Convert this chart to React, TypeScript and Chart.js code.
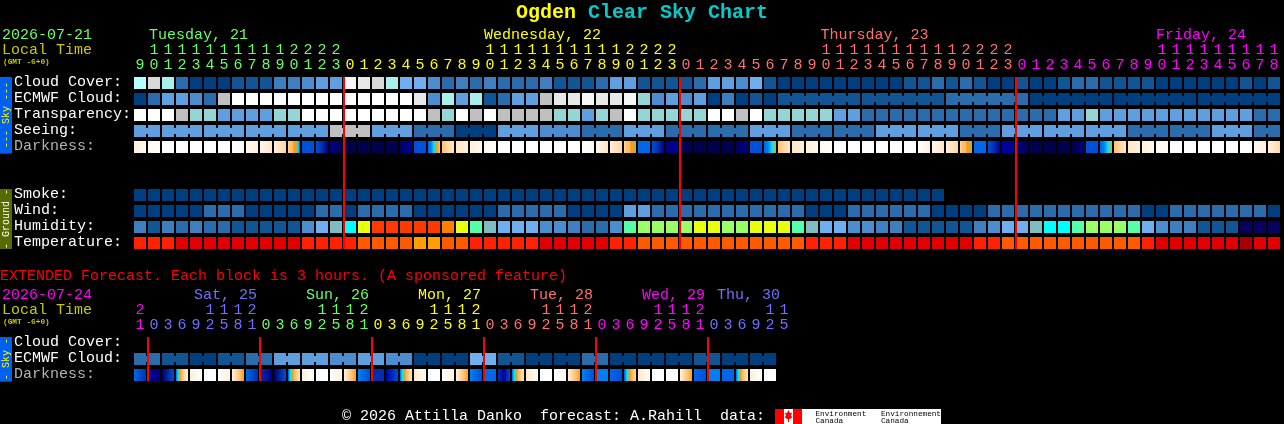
import React, { useEffect, useRef } from "react";
import { Chart, registerables } from "chart.js";

Chart.register(...registerables);

// ---------- data ----------
const forecastHours = [9,10,11,12,13,14,15,16,17,18,19,20,21,22,23,
  0,1,2,3,4,5,6,7,8,9,10,11,12,13,14,15,16,17,18,19,20,21,22,23,
  0,1,2,3,4,5,6,7,8,9,10,11,12,13,14,15,16,17,18,19,20,21,22,23,
  0,1,2,3,4,5,6,7,8,9,10,11,12,13,14,15,16,17,18];
const extendedHours = [21,
  0,3,6,9,12,15,18,21, 0,3,6,9,12,15,18,21, 0,3,6,9,12,15,18,21,
  0,3,6,9,12,15,18,21, 0,3,6,9,12,15,18,21, 0,3,6,9,12,15];

// sky / ground class per block (index into skyPalette)
const cloudCover = [9,11,8,2,0,0,0,1,1,1,3,3,4,5,5,13,12,11,8,6,6,
  4,2,3,2,3,2,2,2,3,1,1,1,2,5,5,1,1,1,1,2,5,5,4,6,1,0,0,0,0,0,0,
  0,0,0,1,1,2,1,2,1,0,0,1,0,0,1,2,2,1,1,1,1,0,0,0,0,0,0,1,0,1];
const ecmwfCloud = [0,2,5,5,4,2,10,14,14,14,14,14,14,14,14,14,14,14,14,14,12,
  4,8,5,8,1,2,5,5,10,12,12,13,12,12,13,7,4,5,4,5,0,3,0,1,0,
  1,1,1,1,1,1, 1,1,1,1,1,1, 2,2,2,2,2,2, 0,0,0,0,0,0, 0,0,0,0,0,0, 0,0,0,0,0,0];
const transparency = [14,14,14,10,7,7,5,5,5,5,7,7,14,14,14,14,14,14,14,14,14,
  10,7,14,10,14,10,10,10,10,7,7,5,7,10,14,7,7,7,7,7,14,14,10,14,7,7,7,7,7,5,5,
  2,2,2,2,2,2,2,2,2,2,2,2,2,2,5,5,7,5,5,5,5,5,5,5,5,5,5,5,2,2];
const seeing = [5,5, 5,5,5, 5,5,5, 5,5,5, 5,5,5, 10,10,10, 5,5,5, 2,2,2,
  0,0,0, 5,5,5, 4,4,4, 2,2,2, 5,5,5, 2,2,2, 2,2,2, 5,5,5, 2,2,2, 2,2,2,
  5,5,5, 5,5,5, 2,2,2, 5,5,5, 5,5,5, 5,5,5, 2,2,2, 2,2,2, 5,5,5, 2,2];
const smoke = [0,0,0,0,0,0,0,0,0,0,0,0,0,0,0,0,0,0,0,0,0,0,0,0,0,0,0,0,0,0,
  0,0,0,0,0,0,0,0,0,0,0,0,0,0,0,0,0,0,0,0,0,0,0,0,0,0,0,0];
const wind = [0,0,0,0,0,2,2,2,0,0,0,0,0,2,2,0,2,2,2,2,0,
  0,0,0,0,0,2,2,2,2,2,0,0,0,0,5,5,2,2,2,2,2,2,2,2,2,2,2,0,0,0,2,
  2,2,2,2,2,0,0,0,0,2,2,2,2,2,2,2,2,2,2,2,0,0,2,2,2,2,2,2,2,0];
const humidity = [3,1,3,2,3,2,2,1,1,1,1,1,4,6,15,16,19,21,21,21,21,
  21,20,19,17,15,6,6,6,4,4,3,2,2,4,17,18,18,18,18,19,19,18,18,19,19,19,17,15,6,6,4,
  4,3,3,1,1,1,1,1,3,4,6,6,15,16,16,17,18,18,18,17,6,4,3,3,1,1,1,22,22,22];
const temperature = [23,23,23,24,24,24,24,24,24,24,24,24,23,23,23,23,25,25,25,25,26,
  26,25,25,23,23,23,23,23,24,24,24,24,24,23,23,25,25,25,25,25,25,25,25,25,25,25,25,23,23,23,24,
  24,24,24,24,24,24,24,24,23,23,25,25,25,25,25,25,25,25,25,25,23,24,24,24,24,24,24,27,24,24];
const extendedEcmwf = [2,2,1,1,0,0,1,1,2,2,5,5,5,5,4,4,5,5,4,4,0,0,0,0,6,6,1,1,0,0,0,0,2,2,0,0,0,0,0,0,1,1,0,0,0,0];

// darkness per block, as stops running left to right (index into darknessPalette)
const darkness = [[2,1],[1,0],[0],[0],[0],[0],[0],[0,1],[1,2],[1,3],[2,4],[4,5,5,6,6,7,10],[10],[10,11,13],[13,14],
  [15],[15],[15],[15],[14,13,12],[10],[9,8,7,6,5],[5,4,3],[3,2],[2,1],[1,0],[0],[0],[0],[0],[0],[0],[0,1],[1,3],[2,4],[4,5,5,6,6,7],
  [9],[10,11,13],[13,12],[14,15],[15],[15],[15],[14,13],[10],[9,8,7,6],[5,4,3],[3,2],[2,1],[1,0],[0],[0],[0],[0],[0],[0],[0,1,2],[1,3],[2,4],[4,5,5,6,6,7],
  [9],[10,11,12],[12],[13,14],[15],[15],[15],[15,14,13],[10],[9,8,7,6],[5,4,3],[3,2],[2,1],[1,0],[0],[0],[0],[0],[0],[0],[1,2],[2,3,4]];
const extendedDarkness = [[9,11],[12,13],[14,10],[9,7,6,5,4,3,2],[2,0],[0],[0,2],[2,4,5,6],[9,11],[11,13],[14,10],[10,7,6,5,4,3],[2,0],[0],[0,2],[2,4,5,6],
  [8,10],[11,11],[12,10],[9,7,6,5,4,3],[3,0],[0],[0,2],[2,4,5,6],[8,10],[9],[11,12,10],[9,7,6,5,4,3],[3,0],[0],[0,1],[2,4,5,6],
  [8,10],[8],[9,10],[10,7,6,5,4],[3,0],[0],[0],[2,4,5,6],[9,10],[8],[9],[9,7,6,5,4,3],[2,0],[0]];

// blocks that share one forecast: run lengths for joined cells
const seeingGroupSizes = [2,3,3,3,3,3,3,3,3,3,3,3,3,3,3,3,3,3,3,3,3,3,3,3,3,3,3,2];
const ecmwfSingleBlocks = 46;
const ecmwfGroupSizes = [6,6,6,6,6,6];
const extendedGroupSizes = [2,2,2,2,2,2,2,2,2,2,2,2,2,2,2,2,2,2,2,2,2,2,2];

const midnightColumns = [15,39,63];
const extendedMidnightColumns = [1,9,17,25,33,41];

const mainDays = [
  { label: "Tuesday, 21", from: 0, to: 14, color: "#66ff66", x: 149 },
  { label: "Wednesday, 22", from: 15, to: 38, color: "#ffff00", x: 484 },
  { label: "Thursday, 23", from: 39, to: 62, color: "#ff7070", x: 820.5 },
  { label: "Friday, 24", from: 63, to: 81, color: "#ff00ff", x: 1156 },
];
const extendedDays = [
  { label: "", from: 0, to: 0, color: "#ff00ff", x: 0 },
  { label: "Sat, 25", from: 1, to: 8, color: "#7070ff", x: 194 },
  { label: "Sun, 26", from: 9, to: 16, color: "#66ff66", x: 306 },
  { label: "Mon, 27", from: 17, to: 24, color: "#ffff00", x: 418 },
  { label: "Tue, 28", from: 25, to: 32, color: "#ff7070", x: 530 },
  { label: "Wed, 29", from: 33, to: 40, color: "#ff00ff", x: 642 },
  { label: "Thu, 30", from: 41, to: 46, color: "#7070ff", x: 717 },
];

// ---------- styles ----------
const skyPalette = ["#003f7f","#125595","#2b6cad","#3f7fc0","#4c8dd0","#5f9fe0","#6fafef",
  "#96d5d5","#a8eeea","#b4ffff","#c0c0c0","#d9d9d9","#e8e8e8","#f6f6f6","#ffffff",
  "#80bdc0","#00ffff","#55ffaa","#99ff66","#e8ff10","#ff8000","#ff3a00","#08005c",
  "#ff2200","#e00000","#ff5a00","#ffa000","#a80000"];
const darknessPalette = ["#ffffff","#fff8f0","#fff0dc","#ffe6c4","#ffd8a0","#ffc070","#ff9a10","#00e6ff",
  "#0080f0","#0068e8","#0050d8","#0030b0","#0000a0","#000080","#000060","#00004c"];

const ROW = { cloud: 0, ecmwf: 1, transparency: 2, seeing: 3, darkness: 4, smoke: 7, wind: 8, humidity: 9, temperature: 10,
  extCloud: 16.25, extEcmwf: 17.25, extDarkness: 18.25 };
const HALF = 0.375;
const MONO = '"Liberation Mono", monospace';

const cells = (label: string, row: number, values: number[]) => ({
  label,
  data: values.map((_, i) => ({ x: i, y: [row - HALF, row + HALF] })),
  backgroundColor: values.map((v) => skyPalette[v]),
  barThickness: 12,
});

const joins = (label: string, row: number, values: number[], sizes: number[], start = 0) => {
  const data: any[] = [];
  const colors: string[] = [];
  let c = start;
  sizes.forEach((n) => {
    for (let k = 0; k < n - 1; k++) {
      data.push({ x: c + k + 0.5, y: [row - 0.1875, row + 0.1875] });
      colors.push(skyPalette[values[c + k]]);
    }
    c += n;
  });
  return { label, data, backgroundColor: colors, barThickness: 2 };
};

const fade = (label: string, row: number, stops: number[][]) => ({
  label,
  data: stops.map((_, i) => ({ x: i, y: [row - HALF, row + HALF] })),
  barThickness: 12,
  backgroundColor: (ctx: any) => {
    const s = stops[ctx.dataIndex];
    if (!s) return "#000";
    if (s.length === 1) return darknessPalette[s[0]];
    const c = ctx.chart.scales.x.getPixelForValue(ctx.dataIndex);
    if (!Number.isFinite(c)) return darknessPalette[s[0]];
    const g = ctx.chart.ctx.createLinearGradient(c - 6, 0, c + 6, 0);
    s.forEach((v, k) => g.addColorStop(k / (s.length - 1), darknessPalette[v]));
    return g;
  },
});

const midnight = (label: string, cols: number[], from: number, to: number) => ({
  label,
  data: cols.map((c) => ({ x: c - 6 / 14, y: [from, to] })),
  backgroundColor: "#ff0000",
  barThickness: 2,
  order: -1,
});

const SIDE_X = -67 / 7;
const side = (label: string, from: number, to: number, color: string) => ({
  label,
  data: [{ x: SIDE_X, y: [from, to] }],
  backgroundColor: color,
  barThickness: 12,
});

const text = (ctx: CanvasRenderingContext2D, s: string, x: number, y: number, color: string, font = `15px ${MONO}`, align: CanvasTextAlign = "left") => {
  ctx.font = font;
  ctx.fillStyle = color;
  ctx.textAlign = align;
  ctx.textBaseline = "alphabetic";
  ctx.fillText(s, x, y - 1);
};

const sideText = (ctx: CanvasRenderingContext2D, s: string, cy: number, color: string) => {
  ctx.save();
  ctx.translate(9, cy);
  ctx.rotate(-Math.PI / 2);
  text(ctx, s, 0, 1, color, `10px ${MONO}`, "center");
  ctx.restore();
};

const hourRows = (ctx: CanvasRenderingContext2D, sx: any, hours: number[], days: any[], tensY: number, onesY: number) => {
  hours.forEach((h, i) => {
    const day = days.find((d) => i >= d.from && i <= d.to);
    const x = sx.getPixelForValue(i);
    if (h >= 10) text(ctx, String(Math.floor(h / 10)), x, tensY, day.color, undefined, "center");
    text(ctx, String(h % 10), x, onesY, day.color, undefined, "center");
  });
  days.forEach((d) => d.label && text(ctx, d.label, d.x, tensY - 15, d.color));
};

const textPlugin = {
  id: "csc-text",
  afterDatasetsDraw(chart: any) {
    const { ctx, scales } = chart;
    const sx = scales.x;
    const sy = scales.y;
    ctx.save();
    text(ctx, "Ogden", 516, 19, "#ffff00", `bold 20px ${MONO}`);
    text(ctx, "Clear Sky Chart", 588, 19, "#00cccc", `bold 20px ${MONO}`);

    text(ctx, "2026-07-21", 2, 40, "#66ff66");
    text(ctx, "Local Time", 2, 55, "#c8c800");
    text(ctx, "(GMT -6+0)", 3, 65, "#c8c800", `bold 7.8px ${MONO}`);
    hourRows(ctx, sx, forecastHours, mainDays, 55, 70);

    const lab = (s: string, row: number, c = "#ffffff") => text(ctx, s, 14, sy.getPixelForValue(row) + 4, c);
    lab("Cloud Cover:", ROW.cloud);
    lab("ECMWF Cloud:", ROW.ecmwf);
    lab("Transparency:", ROW.transparency);
    lab("Seeing:", ROW.seeing);
    lab("Darkness:", ROW.darkness, "#b4b4b4");
    lab("Smoke:", ROW.smoke);
    lab("Wind:", ROW.wind);
    lab("Humidity:", ROW.humidity);
    lab("Temperature:", ROW.temperature);

    sideText(ctx, "--- Sky ---", 115, "#ffff00");
    sideText(ctx, "- Ground -", 219, "#ffffff");
    sideText(ctx, "- Sky -", 359, "#ffff00");

    text(ctx, "EXTENDED Forecast. Each block is 3 hours. (A sponsored feature)", 0, 281, "#ff0000");
    text(ctx, "2026-07-24", 2, 300, "#ff00ff");
    text(ctx, "Local Time", 2, 315, "#c8c800");
    text(ctx, "(GMT -6+0)", 3, 325, "#c8c800", `bold 7.8px ${MONO}`);
    hourRows(ctx, sx, extendedHours, extendedDays, 315, 330);
    lab("Cloud Cover:", ROW.extCloud);
    lab("ECMWF Cloud:", ROW.extEcmwf);
    lab("Darkness:", ROW.extDarkness, "#b4b4b4");

    text(ctx, "\u00a9 2026 Attilla Danko  forecast: A.Rahill  data:", 342, 421, "#ffffff");

    // Environment Canada badge
    ctx.fillStyle = "#ffffff";
    ctx.fillRect(775, 409, 166, 15);
    ctx.fillStyle = "#ff0000";
    ctx.fillRect(775, 409, 9, 15);
    ctx.fillRect(793, 409, 9, 15);
    ctx.beginPath();
    [[788.5,410],[790,413],[792,412.5],[791,416],[792.5,417],[790,419],[789,419],[789,422],[788,422],[788,419],[787,419],[784.5,417],[786,416],[785,412.5],[787,413]]
      .forEach(([x, y], i) => (i ? ctx.lineTo(x, y) : ctx.moveTo(x, y)));
    ctx.closePath();
    ctx.fill();
    const tiny = `7.7px ${MONO}`;
    text(ctx, "Environment", 815.5, 417, "#000000", tiny);
    text(ctx, "Canada", 815.5, 424, "#000000", tiny);
    text(ctx, "Environnement", 881, 417, "#000000", tiny);
    text(ctx, "Canada", 881, 424, "#000000", tiny);
    ctx.restore();
  },
};

export default function App() {
  const ref = useRef<HTMLCanvasElement>(null);
  useEffect(() => {
    document.body.style.margin = "0";
    document.body.style.background = "#000";
    const chart = new Chart(ref.current as HTMLCanvasElement, {
      type: "bar",
      data: {
        datasets: [
          side("Sky band", ROW.cloud - HALF, ROW.darkness + HALF + 0.04, "#0060f0"),
          side("Ground band", ROW.smoke - HALF, ROW.temperature + HALF, "#556b00"),
          side("Extended sky band", ROW.extCloud - HALF, ROW.extDarkness + HALF + 0.04, "#0060f0"),
          cells("Cloud Cover", ROW.cloud, cloudCover),
          cells("ECMWF Cloud", ROW.ecmwf, ecmwfCloud),
          joins("ECMWF joins", ROW.ecmwf, ecmwfCloud, ecmwfGroupSizes, ecmwfSingleBlocks),
          cells("Transparency", ROW.transparency, transparency),
          cells("Seeing", ROW.seeing, seeing),
          joins("Seeing joins", ROW.seeing, seeing, seeingGroupSizes),
          fade("Darkness", ROW.darkness, darkness),
          cells("Smoke", ROW.smoke, smoke),
          cells("Wind", ROW.wind, wind),
          cells("Humidity", ROW.humidity, humidity),
          cells("Temperature", ROW.temperature, temperature),
          cells("Extended ECMWF Cloud", ROW.extEcmwf, extendedEcmwf),
          joins("Extended ECMWF joins", ROW.extEcmwf, extendedEcmwf, extendedGroupSizes),
          fade("Extended Darkness", ROW.extDarkness, extendedDarkness),
          midnight("Midnight", midnightColumns, ROW.cloud - HALF, ROW.temperature + HALF),
          midnight("Extended midnight", extendedMidnightColumns, ROW.extCloud - HALF, ROW.extDarkness + HALF),
        ] as any,
      },
      options: {
        animation: false,
        responsive: false,
        devicePixelRatio: 1,
        events: [],
        layout: { padding: 0 },
        datasets: { bar: { grouped: false, inflateAmount: 0, borderWidth: 0 } },
        plugins: { legend: { display: false }, tooltip: { enabled: false }, title: { display: false } },
        scales: {
          x: { type: "linear", display: false, offset: false, bounds: "data", min: -10, max: 572 / 7, grid: { display: false } },
          y: { type: "linear", display: false, reverse: true, bounds: "data", min: -83 / 16, max: 341 / 16, grid: { display: false } },
        },
      } as any,
      plugins: [textPlugin],
    });
    return () => chart.destroy();
  }, []);
  return <canvas ref={ref} width={1284} height={424} style={{ display: "block", background: "#000" }} />;
}
